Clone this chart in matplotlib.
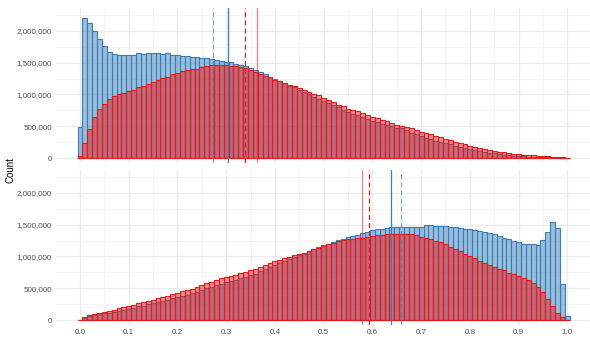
import numpy as np
import matplotlib
matplotlib.use("Agg")
import matplotlib.pyplot as plt
from matplotlib.ticker import FuncFormatter, MultipleLocator

plt.rcParams['font.family'] = ['Liberation Sans', 'DejaVu Sans']

# Histogram bins (width 0.01, centred on 0.00 ... 1.00)
bin_centres = np.round(np.arange(0, 101) * 0.01, 2)
bin_width = 0.01

# Counts in millions
top_blue = [0.49, 2.205, 2.126, 1.995, 1.874, 1.763, 1.663, 1.632, 1.621, 1.621,
            1.621, 1.621, 1.647, 1.637, 1.647, 1.647, 1.647, 1.637, 1.647, 1.626,
            1.616, 1.6, 1.6, 1.584, 1.584, 1.574, 1.568, 1.553, 1.537, 1.526,
            1.51, 1.505, 1.479, 1.468, 1.442, 1.416, 1.379, 1.353, 1.321, 1.279,
            1.242, 1.205, 1.174, 1.137, 1.11, 1.07, 1.04, 1.0, 0.963, 0.932,
            0.9, 0.868, 0.832, 0.795, 0.763, 0.732, 0.7, 0.679, 0.647, 0.616,
            0.584, 0.563, 0.542, 0.521, 0.5, 0.475, 0.465, 0.447, 0.395, 0.374,
            0.347, 0.321, 0.3, 0.274, 0.258, 0.237, 0.216, 0.195, 0.179, 0.163,
            0.147, 0.132, 0.116, 0.1, 0.084, 0.074, 0.063, 0.053, 0.047, 0.037,
            0.032, 0.026, 0.021, 0.018, 0.015, 0.012, 0.01, 0.008, 0.006, 0.004,
            0.002]
top_red = [0.03, 0.232, 0.453, 0.642, 0.768, 0.853, 0.921, 0.968, 1.0, 1.026,
           1.053, 1.063, 1.11, 1.13, 1.158, 1.2, 1.226, 1.253, 1.279, 1.316,
           1.337, 1.363, 1.384, 1.395, 1.405, 1.437, 1.453, 1.463, 1.468, 1.468,
           1.458, 1.447, 1.44, 1.432, 1.416, 1.39, 1.358, 1.321, 1.284, 1.268,
           1.232, 1.205, 1.184, 1.147, 1.126, 1.1, 1.075, 1.045, 1.015, 0.985,
           0.95, 0.915, 0.874, 0.842, 0.816, 0.779, 0.753, 0.737, 0.711, 0.679,
           0.653, 0.632, 0.605, 0.584, 0.558, 0.521, 0.51, 0.495, 0.468, 0.447,
           0.41, 0.39, 0.374, 0.342, 0.326, 0.3, 0.279, 0.253, 0.232, 0.216,
           0.195, 0.174, 0.163, 0.142, 0.121, 0.11, 0.1, 0.089, 0.079, 0.068,
           0.058, 0.053, 0.047, 0.042, 0.037, 0.032, 0.026, 0.021, 0.016, 0.01,
           0.005]
bottom_blue = [0.004, 0.035, 0.06, 0.077, 0.09, 0.104, 0.117, 0.13, 0.147, 0.161,
               0.178, 0.196, 0.214, 0.228, 0.25, 0.265, 0.283, 0.297, 0.32, 0.34,
               0.358, 0.38, 0.4, 0.42, 0.448, 0.472, 0.497, 0.522, 0.547, 0.572,
               0.597, 0.617, 0.635, 0.66, 0.68, 0.705, 0.728, 0.765, 0.8, 0.835,
               0.87, 0.895, 0.93, 0.964, 0.99, 1.025, 1.045, 1.09, 1.116, 1.148,
               1.174, 1.195, 1.226, 1.258, 1.279, 1.3, 1.321, 1.342, 1.368, 1.384,
               1.41, 1.426, 1.436, 1.447, 1.457, 1.467, 1.46, 1.457, 1.467, 1.467,
               1.467, 1.499, 1.488, 1.478, 1.478, 1.478, 1.467, 1.457, 1.447, 1.436,
               1.426, 1.42, 1.405, 1.384, 1.368, 1.347, 1.321, 1.294, 1.274, 1.247,
               1.232, 1.195, 1.19, 1.19, 1.184, 1.258, 1.378, 1.541, 1.447, 0.566,
               0.058]
bottom_red = [0.005, 0.047, 0.079, 0.1, 0.115, 0.131, 0.147, 0.162, 0.183, 0.199,
              0.22, 0.241, 0.262, 0.278, 0.304, 0.32, 0.341, 0.356, 0.383, 0.404,
              0.425, 0.451, 0.472, 0.493, 0.524, 0.55, 0.577, 0.603, 0.629, 0.655,
              0.68, 0.7, 0.715, 0.735, 0.755, 0.78, 0.805, 0.833, 0.87, 0.896,
              0.922, 0.943, 0.975, 0.996, 1.017, 1.038, 1.05, 1.08, 1.111, 1.137,
              1.169, 1.19, 1.211, 1.242, 1.258, 1.268, 1.279, 1.289, 1.295, 1.305,
              1.321, 1.331, 1.342, 1.347, 1.35, 1.352, 1.352, 1.352, 1.35, 1.331,
              1.31, 1.289, 1.279, 1.245, 1.225, 1.19, 1.15, 1.115, 1.08, 1.045,
              1.01, 0.975, 0.933, 0.891, 0.87, 0.839, 0.807, 0.781, 0.744, 0.723,
              0.687, 0.66, 0.624, 0.582, 0.514, 0.44, 0.33, 0.22, 0.105, 0.042,
              0.005]

# Summary lines (x positions): solid and dashed for each group
top_lines = {'blue_dashed': 0.2736, 'blue_solid': 0.3043,
             'red_dashed': 0.338, 'red_solid': 0.3632}
bottom_lines = {'red_solid': 0.5787, 'red_dashed': 0.5937,
                'blue_solid': 0.6388, 'blue_dashed': 0.6587}

BLUE = '#377EB8'
RED = '#E41A1C'

W, H = 590, 339
fig = plt.figure(figsize=(W / 100, H / 100), dpi=100)

left_px, right_px = 56, 590
panels = [(8, 163, top_blue, top_red, top_lines),
          (170, 325, bottom_blue, bottom_red, bottom_lines)]

for top_px, bot_px, blue, red, lines in panels:
    ax = fig.add_axes([left_px / W, 1 - bot_px / H,
                       (right_px - left_px) / W, (bot_px - top_px) / H])

    ax.bar(bin_centres, np.array(blue) * 1e6, width=bin_width,
           facecolor=(0.216, 0.494, 0.722, 0.5), edgecolor=BLUE, linewidth=0.8, zorder=2)
    ax.bar(bin_centres, np.array(red) * 1e6, width=bin_width,
           facecolor=(0.894, 0.102, 0.110, 0.5), edgecolor=RED, linewidth=0.8, zorder=3)

    ax.axvline(lines['blue_dashed'], color=BLUE, alpha=0.65, lw=0.9, ls=(0, (4, 2.5)), zorder=4)
    ax.axvline(lines['blue_solid'], color=BLUE, lw=0.9, zorder=4)
    ax.axvline(lines['red_dashed'], color=RED, lw=0.9, ls=(0, (4, 2.5)), zorder=4)
    ax.axvline(lines['red_solid'], color=RED, alpha=0.55, lw=0.9, zorder=4)

    # ggplot-like minimal theme
    ax.set_xlim((left_px - 80) / 487.3, (right_px - 80) / 487.3)
    ax.set_ylim(-0.078e6, 2.36e6)
    ax.xaxis.set_major_locator(MultipleLocator(0.1))
    ax.xaxis.set_minor_locator(MultipleLocator(0.05))
    ax.yaxis.set_major_locator(MultipleLocator(500000))
    ax.yaxis.set_minor_locator(MultipleLocator(250000))
    ax.grid(which='major', color='#ebebeb', lw=1.0, zorder=0)
    ax.grid(which='minor', color='#f3f3f3', lw=0.6, zorder=0)
    ax.set_axisbelow(True)
    for s in ax.spines.values():
        s.set_visible(False)
    ax.tick_params(which='both', length=0, labelsize=5.8, labelcolor='#4d4d4d', pad=3)
    ax.yaxis.set_major_formatter(FuncFormatter(lambda v, p: f'{int(round(v)):,}'))
    ax.xaxis.set_major_formatter(FuncFormatter(lambda v, p: f'{v:.1f}'))
    if top_px < 100:
        ax.tick_params(axis='x', labelbottom=False)

fig.text(11 / W, 1 - 170 / H, 'Count', rotation=90, ha='center', va='center',
         fontsize=7, color='black')

fig.savefig('out.png', dpi=100)
